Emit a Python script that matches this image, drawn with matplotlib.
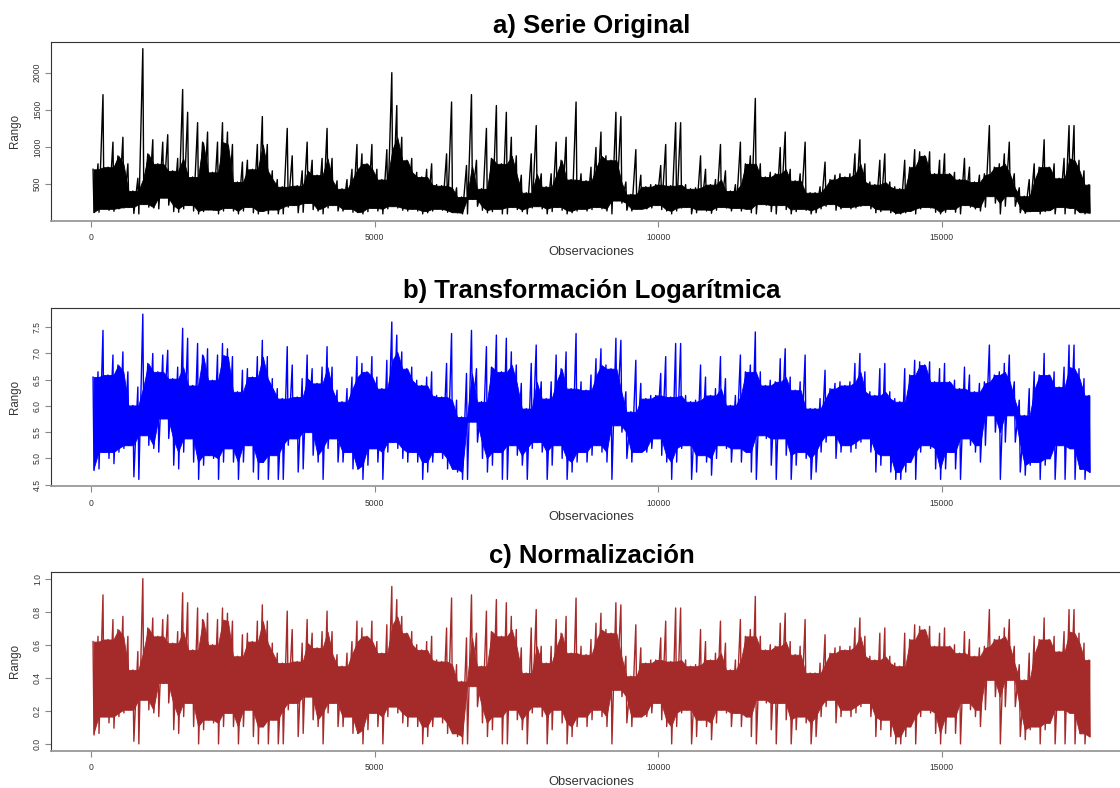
import numpy as np
import matplotlib
matplotlib.use("Agg")
import matplotlib.pyplot as plt

n_obs = 17650

log_peaks = [
    6.55, 6.65, 7.44, 6.59, 6.97, 6.78, 7.03, 6.65, 6.01, 6.36, 7.75, 6.81, 7.00, 6.65, 6.97, 7.06, 6.52,
    6.74, 7.48, 7.29, 6.39, 7.19, 6.97, 7.09, 6.49, 6.97, 7.19, 7.09, 6.94, 6.27, 6.68, 6.71, 6.55, 6.94,
    7.25, 6.94, 6.52, 6.33, 6.14, 7.13, 6.78, 6.17, 6.52, 6.97, 6.71, 6.43, 6.74, 7.13, 6.74, 6.30, 6.08,
    6.33, 6.55, 6.94, 6.81, 6.65, 6.94, 6.55, 6.33, 6.87, 7.60, 7.35, 7.03, 6.71, 6.74, 6.49, 6.39, 6.55,
    6.65, 6.20, 6.17, 6.81, 7.38, 6.11, 5.79, 6.62, 7.44, 6.71, 6.08, 7.13, 6.74, 7.35, 6.65, 7.29, 7.03,
    6.78, 6.43, 5.95, 6.81, 7.16, 6.46, 6.14, 6.46, 6.97, 6.71, 7.03, 6.33, 7.38, 6.46, 6.30, 6.59, 6.90,
    7.09, 6.78, 6.71, 7.29, 7.25, 6.27, 5.89, 6.87, 6.43, 6.14, 6.20, 6.20, 6.62, 6.94, 6.17, 7.19, 7.19,
    6.20, 6.08, 6.11, 6.78, 6.55, 6.20, 6.33, 6.94, 6.52, 6.01, 6.20, 6.97, 6.65, 6.78, 7.41, 6.65, 6.39,
    6.49, 6.46, 6.90, 7.09, 6.55, 6.30, 6.46, 6.97, 5.95, 5.95, 6.14, 6.68, 6.33, 6.43, 6.46, 6.39, 6.46,
    6.81, 7.00, 6.65, 6.27, 6.20, 6.71, 6.81, 6.27, 6.14, 6.08, 6.71, 6.59, 6.87, 6.84, 6.78, 6.84, 6.46,
    6.71, 6.81, 6.46, 6.49, 6.33, 6.74, 6.59, 6.27, 6.43, 6.46, 7.16, 6.59, 6.65, 6.81, 6.97, 6.46, 6.11,
    5.82, 6.33, 6.65, 6.59, 7.00, 6.59, 6.65, 6.36, 6.74, 7.16, 7.16, 6.71, 6.52, 6.20,
]

log_troughs = [
    4.77, 4.80, 5.12, 5.00, 4.90, 5.12, 5.19, 5.25, 4.65, 4.60, 5.44, 5.25, 5.19, 5.12, 5.76, 5.38, 4.87,
    4.80, 5.12, 5.38, 4.93, 4.60, 4.87, 5.06, 5.00, 4.60, 4.93, 5.19, 4.93, 4.60, 4.93, 5.25, 4.74, 4.60,
    4.93, 4.60, 5.06, 4.60, 4.60, 5.25, 5.38, 4.74, 4.80, 5.50, 5.06, 4.93, 4.60, 5.19, 5.38, 4.93, 4.93,
    5.12, 4.80, 4.80, 4.60, 4.87, 5.19, 4.93, 4.60, 5.12, 5.31, 5.19, 5.00, 4.93, 5.12, 4.93, 4.60, 4.74,
    4.93, 5.12, 5.00, 4.80, 4.80, 4.74, 4.60, 4.60, 5.70, 5.31, 5.00, 4.74, 4.87, 5.12, 4.60, 4.60, 5.25,
    5.06, 4.87, 4.60, 5.19, 5.31, 5.12, 4.60, 4.87, 5.25, 5.00, 4.60, 4.74, 4.93, 5.12, 4.93, 5.06, 5.25,
    5.12, 4.93, 4.60, 5.63, 5.50, 5.00, 4.93, 5.12, 5.12, 5.12, 5.19, 5.38, 5.06, 4.93, 4.60, 4.93, 5.19,
    5.25, 4.60, 4.74, 5.06, 4.93, 4.68, 5.00, 5.25, 5.19, 4.93, 5.19, 4.93, 5.12, 4.74, 4.60, 5.44, 5.38,
    4.87, 4.60, 5.38, 5.06, 4.60, 4.87, 5.12, 5.00, 4.60, 4.74, 5.12, 5.31, 5.44, 5.00, 5.12, 5.25, 5.12,
    5.19, 5.31, 5.38, 5.12, 4.74, 4.87, 5.06, 4.74, 4.60, 4.60, 4.74, 4.93, 4.60, 5.12, 5.25, 5.19, 4.80,
    4.60, 4.80, 5.12, 4.80, 4.60, 5.38, 5.25, 5.12, 4.93, 5.25, 5.82, 5.50, 4.60, 5.31, 5.82, 5.31, 4.74,
    4.68, 4.87, 4.93, 4.60, 4.87, 5.00, 4.60, 5.25, 4.60, 5.19, 4.60, 4.80, 4.60, 4.74,
]

titles = ["a) Serie Original", "b) Transformación Logarítmica", "c) Normalización"]
x_label = "Observaciones"
y_label = "Rango"
x_ticks = [0, 5000, 10000, 15000]
y_ticks = [
    [500, 1000, 1500, 2000],
    [4.5, 5.0, 5.5, 6.0, 6.5, 7.0, 7.5],
    [0.0, 0.2, 0.4, 0.6, 0.8, 1.0],
]
y_fmt = ["{:.0f}", "{:.1f}", "{:.1f}"]
colors = ["black", "blue", "brown"]

# ---------------- series ----------------
log_peaks = np.asarray(log_peaks)
log_troughs = np.asarray(log_troughs)
n_blocks = log_peaks.size
block_w = (n_obs - 1) / n_blocks
block_mid = 1 + (np.arange(n_blocks) + 0.5) * block_w

lmin = min(log_peaks.min(), log_troughs.min())
lmax = max(log_peaks.max(), log_troughs.max())
blocks = {
    "orig": (np.exp(log_troughs), np.exp(log_peaks)),
    "log": (log_troughs, log_peaks),
    "norm": ((log_troughs - lmin) / (lmax - lmin), (log_peaks - lmin) / (lmax - lmin)),
}
keys = ["orig", "log", "norm"]


def shared_band(lo, hi):
    """Part of each block's range that its neighbours also cover (the solid core of a dense line)."""
    lo_p = np.concatenate([[lo[0]], lo, [lo[-1]]])
    hi_p = np.concatenate([[hi[0]], hi, [hi[-1]]])
    core_lo = np.maximum(np.maximum(lo_p[:-2], lo_p[1:-1]), lo_p[2:])
    core_hi = np.minimum(np.minimum(hi_p[:-2], hi_p[1:-1]), hi_p[2:])
    return core_lo, np.maximum(core_hi, core_lo)


# line through max/min of each block, in time order
obs_line = np.ravel(np.column_stack([block_mid - 0.1 * block_w, block_mid + 0.1 * block_w]))

# ---------------- figure ----------------
W, H = 1120, 788
fig = plt.figure(figsize=(W / 100, H / 100), dpi=100)
plt.rcParams['font.family'] = ['Liberation Sans', 'DejaVu Sans']

left_px, right_px = 51, 1132
tops_px = [42, 307.5, 572]
h_px = 178.5

for i, (key, col) in enumerate(zip(keys, colors)):
    lo, hi = blocks[key]
    c_lo, c_hi = shared_band(lo, hi)
    ax = fig.add_axes([left_px / W, 1 - (tops_px[i] + h_px) / H,
                       (right_px - left_px) / W, h_px / H])
    ax.fill_between(block_mid, c_lo, c_hi, color=col, lw=0.6, edgecolor=col)
    ax.plot(obs_line, np.ravel(np.column_stack([hi, lo])), color=col, lw=1.0)

    # R-style 4% padding
    xr = n_obs - 1
    ax.set_xlim(1 - 0.04 * xr, n_obs + 0.04 * xr)
    ymin, ymax = lo.min(), hi.max()
    yr = ymax - ymin
    ax.set_ylim(ymin - 0.04 * yr, ymax + 0.04 * yr)

    ax.set_xticks(x_ticks)
    ax.set_xticklabels([str(t) for t in x_ticks])
    ax.set_yticks(y_ticks[i])
    ax.set_yticklabels([y_fmt[i].format(t) for t in y_ticks[i]], rotation=90, va='center')
    ax.tick_params(axis='both', direction='out', length=4, width=0.8, color='#888888',
                   labelsize=6.2, labelcolor='#333333')
    ax.tick_params(axis='x', pad=5)
    ax.tick_params(axis='y', pad=2.5)

    for s in ['top', 'left', 'right']:
        ax.spines[s].set_color('#333333')
        ax.spines[s].set_linewidth(0.8)
    ax.spines['bottom'].set_color('#999999')
    ax.spines['bottom'].set_linewidth(1.3)

    ax.set_title(titles[i], fontsize=18.5, fontweight='bold', color='black', pad=6.5)
    ax.set_xlabel(x_label, fontsize=9.3, color='#333333', va='center')
    ax.xaxis.set_label_coords(0.5, -(31.5 / h_px))
    ax.set_ylabel(y_label, fontsize=8.3, color='#333333', va='center')
    ax.yaxis.set_label_coords(-(36 / (right_px - left_px)), 0.5)

fig.savefig("out.png", dpi=100)
